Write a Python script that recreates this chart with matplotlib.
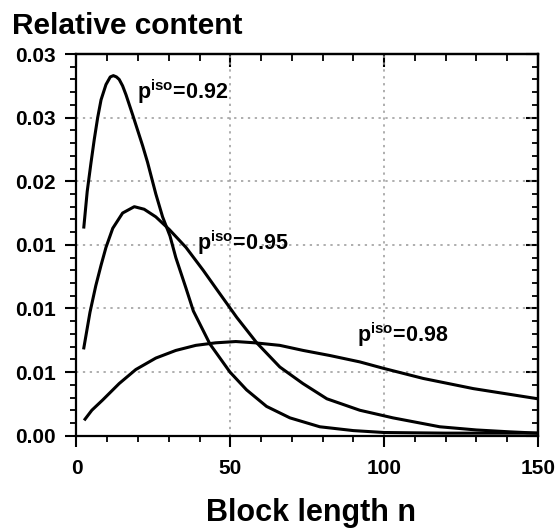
import matplotlib.pyplot as plt
from matplotlib.ticker import MultipleLocator

# Data
n_092 = [2.4, 3.5, 4.7, 5.8, 6.9, 8.0, 9.6, 11.0, 12.0, 13.0, 13.9, 15.0, 16.1,
         18.3, 21.5, 23.1, 25.8, 28.0, 30.4, 32.3, 35.6, 38.0, 43.4, 49.9, 55.3,
         61.8, 69.4, 79.1, 90.0, 100.0, 120.0, 150.0]
y_092 = [0.0164, 0.0192, 0.0214, 0.0233, 0.0250, 0.0264, 0.0276, 0.0282, 0.0283,
         0.0282, 0.0280, 0.0275, 0.0268, 0.0252, 0.0228, 0.0215, 0.0190, 0.0172,
         0.0157, 0.0140, 0.0116, 0.0098, 0.0072, 0.0050, 0.0036, 0.0023, 0.0014,
         0.0007, 0.0004, 0.00025, 0.0002, 0.0002]

n_095 = [2.4, 4.4, 6.3, 8.0, 9.6, 11.8, 15.0, 18.8, 22.0, 25.8, 30.2, 35.6, 41.2,
         45.6, 52.1, 58.6, 66.1, 73.6, 81.4, 92.1, 102.9, 118.1, 130.0, 141.0, 150.0]
y_095 = [0.0069, 0.0097, 0.0118, 0.0134, 0.0148, 0.0163, 0.0175, 0.0180, 0.0178,
         0.0172, 0.0162, 0.0148, 0.0130, 0.0115, 0.0093, 0.0073, 0.0054, 0.0041,
         0.0029, 0.0020, 0.0014, 0.0007, 0.00045, 0.0003, 0.0002]

n_098 = [2.8, 5.0, 8.5, 13.9, 19.3, 25.8, 32.3, 38.8, 45.3, 51.8, 58.0, 66.1, 73.7,
         82.4, 92.1, 99.7, 112.7, 129.0, 150.0]
y_098 = [0.0013, 0.0020, 0.0028, 0.0041, 0.0052, 0.0061, 0.0067, 0.0071, 0.0073,
         0.0074, 0.0073, 0.0071, 0.0067, 0.0063, 0.0058, 0.0053, 0.0045, 0.0037, 0.0029]

labels = ['0.92', '0.95', '0.98']
label_pos = [(19.6, 0.0270), (39.1, 0.01515), (91.1, 0.0079)]

y_ticks = [0.0, 0.005, 0.010, 0.015, 0.020, 0.025, 0.030]
y_tick_labels = ['0.00', '0.01', '0.01', '0.01', '0.02', '0.03', '0.03']
x_ticks = [0, 50, 100, 150]

plt.rcParams['font.family'] = 'Liberation Sans'
plt.rcParams['font.weight'] = 'bold'
plt.rcParams['mathtext.fontset'] = 'custom'
plt.rcParams['mathtext.rm'] = 'Liberation Sans'
plt.rcParams['mathtext.bf'] = 'Liberation Sans:bold'

fig = plt.figure(figsize=(5.58, 5.29), dpi=100)
ax = fig.add_axes([0.137, 0.1764, 0.827, 0.7215])

for n, y in [(n_092, y_092), (n_095, y_095), (n_098, y_098)]:
    ax.plot(n, y, color='black', lw=2.2, solid_joinstyle='round')

for lab, (x, y) in zip(labels, label_pos):
    ax.text(x, y, r'p$^{\mathregular{iso}}$=' + lab, fontsize=15.5, fontweight='bold',
            va='center', ha='left')

ax.set_xlim(0, 150)
ax.set_ylim(0, 0.03)
ax.set_xticks(x_ticks)
ax.set_yticks(y_ticks)
ax.set_yticklabels(y_tick_labels)
ax.xaxis.set_minor_locator(MultipleLocator(10))
ax.yaxis.set_minor_locator(MultipleLocator(0.001))
ax.tick_params(which='major', direction='out', length=8, width=1.5, labelsize=15, pad=7)
ax.tick_params(which='minor', direction='out', length=4, width=1.3)
ax.tick_params(axis='x', pad=9)
ax.grid(True, which='major', linestyle=(0, (1.5, 3)), color='#999999', lw=1.1)
for s in ax.spines.values():
    s.set_linewidth(1.6)

top = ax.secondary_xaxis('top')
top.set_xticks(x_ticks)
top.xaxis.set_minor_locator(MultipleLocator(10))
top.tick_params(which='major', direction='in', length=9, width=1.5, labeltop=False)
top.tick_params(which='minor', direction='in', length=5, width=1.3)
right = ax.secondary_yaxis('right')
right.set_yticks(y_ticks)
right.yaxis.set_minor_locator(MultipleLocator(0.001))
right.tick_params(which='major', direction='in', length=9, width=1.5, labelright=False)
right.tick_params(which='minor', direction='in', length=4, width=1.3)
top.spines['top'].set_linewidth(1.6)
right.spines['right'].set_linewidth(1.6)

fig.text(0.022, 0.978, 'Relative content', fontsize=21.5, fontweight='bold', va='top', ha='left')
fig.text(0.557, 0.016, 'Block length n', fontsize=22, fontweight='bold', va='baseline', ha='center')

fig.savefig('out.png', dpi=100)
